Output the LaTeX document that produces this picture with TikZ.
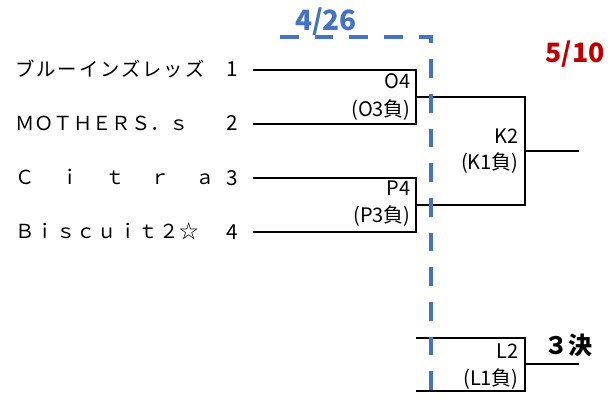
\documentclass[tikz,border=0pt]{standalone}
\usepackage{fontspec}
\setmainfont{Noto Sans CJK JP}
\definecolor{dblue}{HTML}{4472C4}
\definecolor{dred}{HTML}{C00000}
\tikzset{
  br/.style={line width=1.5pt, black},
  team/.style={anchor=base west, inner sep=0pt, font=\fontsize{14.5pt}{14.5pt}\selectfont},
  num/.style={anchor=base, inner sep=0pt, font=\fontsize{15.5pt}{15.5pt}\selectfont},
  mlab/.style={anchor=base east, inner sep=0pt, font=\fontsize{15pt}{15pt}\selectfont},
  date/.style={anchor=base, inner sep=0pt, font=\fontsize{20pt}{20pt}\selectfont\bfseries},
  bluedash/.style={line width=3.5pt, dblue, dash pattern=on 14pt off 12pt, dash phase=0pt}
}
\begin{document}
\begin{tikzpicture}[x=0.75pt,y=-0.75pt]
\useasboundingbox (0,0) rectangle (613,417);
% team labels
\node[team] (t1) at (15,76.5) {\makebox[142pt][s]{ブ\hfill ル\hfill ー\hfill イ\hfill ン\hfill ズ\hfill レ\hfill ッ\hfill ズ}};
\node[team] (t2) at (15,130.5) {\makebox[127pt][s]{Ｍ\hfill Ｏ\hfill Ｔ\hfill Ｈ\hfill Ｅ\hfill Ｒ\hfill Ｓ\hfill ．\hfill ｓ}};
\node[team] (t3) at (15,184.5) {\makebox[150pt][s]{Ｃ\hfill ｉ\hfill ｔ\hfill ｒ\hfill ａ}};
\node[team] (t4) at (15,238.5) {\makebox[138pt][s]{Ｂ\hfill ｉ\hfill ｓ\hfill ｃ\hfill ｕ\hfill ｉ\hfill ｔ\hfill ２\hfill ☆}};
\node[num] (n1) at (232,77) {1};
\node[num] (n2) at (232,131) {2};
\node[num] (n3) at (232,185) {3};
\node[num] (n4) at (232,239) {4};
% coordinates
\coordinate (a1) at (253,70);
\coordinate (a2) at (253,124);
\coordinate (a3) at (253,178);
\coordinate (a4) at (253,232);
\coordinate (o1) at (416,70);
\coordinate (o2) at (416,124);
\coordinate (om) at (416,97);
\coordinate (p1) at (416,178);
\coordinate (p2) at (416,232);
\coordinate (pm) at (416,205);
\coordinate (k1) at (525,97);
\coordinate (k2) at (525,205);
\coordinate (km) at (525,151);
\coordinate (kout) at (579,151);
\coordinate (l0) at (416,338);
\coordinate (l1) at (525,338);
\coordinate (m0) at (416,391);
\coordinate (l2) at (525,391);
\coordinate (lm) at (525,364);
\coordinate (lout) at (579,364);
% brackets
\draw[br] (a1) -- (o1) -- (o2) -- (a2);
\draw[br] (a3) -- (p1) -- (p2) -- (a4);
\draw[br] (om) -- (k1) -- (k2) -- (pm);
\draw[br] (km) -- (kout);
\draw[br] (l0) -- (l1) -- (l2) -- (m0);
\draw[br] (lm) -- (lout);
% match labels
\node[mlab] (o4) at (411,89) {O4};
\node[mlab] (o4b) at (411,116.5) {(O3負)};
\node[mlab] (p4) at (411,195) {P4};
\node[mlab] (p4b) at (411,222.5) {(P3負)};
\node[mlab] (k2l) at (519,143) {K2};
\node[mlab] (k2b) at (519,170) {(K1負)};
\node[mlab] (l2l) at (519,358) {L2};
\node[mlab] (l2b) at (519,385) {(L1負)};
% blue dashed frame
\coordinate (bd0) at (280,37);
\coordinate (bd1) at (431,37);
\coordinate (bd2) at (431,403);
\draw[bluedash] (bd0) -- (bd1) -- (bd2);
% dates
\node[date, text=dblue, font=\fontsize{21pt}{21pt}\selectfont\bfseries] (d1) at (326,31) {4/26};
\node[date, text=dred] (d2) at (575,63) {5/10};
\node[date, anchor=base west, font=\fontsize{18pt}{18pt}\selectfont\bfseries] (d3) at (544,354) {３決};
\end{tikzpicture}
\end{document}
